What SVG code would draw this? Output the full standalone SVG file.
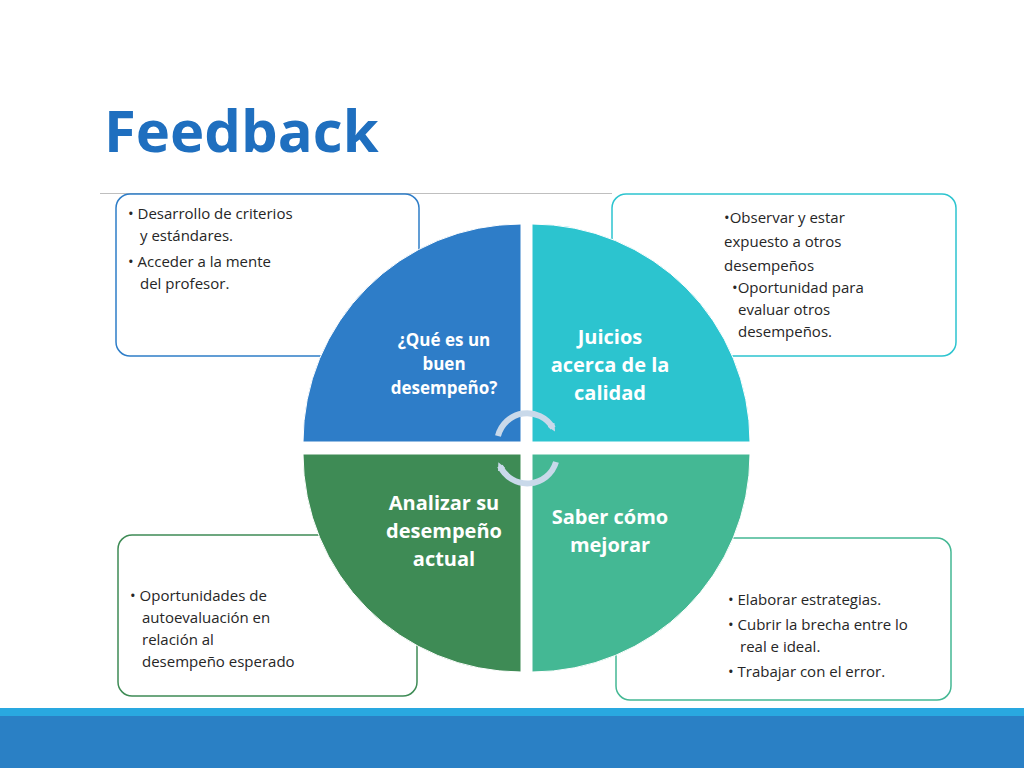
<svg xmlns="http://www.w3.org/2000/svg" width="1024" height="768" viewBox="0 0 1024 768">
<style>
.t{font-family:"Open Sans","Liberation Sans",sans-serif;font-size:15px;fill:#262626}
.q{font-family:"Open Sans","Liberation Sans",sans-serif;font-weight:bold;fill:#fff;text-anchor:middle}
.box{fill:#fff;stroke-width:1.5}
</style>
<defs>
<marker id="ah" markerWidth="8" markerHeight="8" refX="4" refY="4" orient="auto" markerUnits="userSpaceOnUse"><path d="M0,0 L8,4 L0,8 z" fill="#c9d9ea"/></marker>
</defs>
<rect width="1024" height="768" fill="#fff"/>
<text x="104" y="152" font-family="Open Sans,Liberation Sans,sans-serif" font-weight="bold" font-size="58" fill="#1f6fbf">Feedback</text>
<line x1="100" y1="193.5" x2="612" y2="193.5" stroke="#bfbfbf" stroke-width="1"/>
<g id="box-tl"><rect class="box" x="116" y="194" width="303" height="162" rx="14" stroke="#2e7dc8"/>
<text class="t"><tspan x="128" y="219">• Desarrollo de criterios</tspan><tspan x="140" y="241">y estándares.</tspan><tspan x="128" y="267">• Acceder a la mente</tspan><tspan x="140" y="289">del profesor.</tspan></text></g>
<g id="box-tr"><rect class="box" x="612" y="194" width="344" height="162" rx="14" stroke="#2cc4cf"/>
<text class="t"><tspan x="724" y="223">•Observar y estar</tspan><tspan x="724" y="247">expuesto a otros</tspan><tspan x="724" y="271">desempeños</tspan><tspan x="732" y="293">•Oportunidad para</tspan><tspan x="738" y="315">evaluar otros</tspan><tspan x="738" y="337">desempeños.</tspan></text></g>
<g id="box-bl"><rect class="box" x="118" y="535" width="299" height="161" rx="14" stroke="#3e8b55"/>
<text class="t"><tspan x="130" y="601">• Oportunidades de</tspan><tspan x="142" y="623">autoevaluación en</tspan><tspan x="142" y="645">relación al</tspan><tspan x="142" y="667">desempeño esperado</tspan></text></g>
<g id="box-br"><rect class="box" x="616" y="538" width="335" height="162" rx="14" stroke="#44b894"/>
<text class="t"><tspan x="728" y="605">• Elaborar estrategias.</tspan><tspan x="728" y="630">• Cubrir la brecha entre lo</tspan><tspan x="740" y="652">real  e ideal.</tspan><tspan x="728" y="677">• Trabajar con el error.</tspan></text></g>
<g id="q-tl"><path d="M521,224 A218,218 0 0 0 303,442 L521,442 Z" fill="#2e7dc8" stroke="#fff" stroke-width="1"/>
<text class="q" font-size="17"><tspan x="444" y="346">¿Qué es un</tspan><tspan x="444" y="370">buen</tspan><tspan x="444" y="394">desempeño?</tspan></text></g>
<g id="q-tr"><path d="M532,224 A218,218 0 0 1 750,442 L532,442 Z" fill="#2cc4cf" stroke="#fff" stroke-width="1"/>
<text class="q" font-size="20"><tspan x="610" y="344">Juicios</tspan><tspan x="610" y="372">acerca de la</tspan><tspan x="610" y="400">calidad</tspan></text></g>
<g id="q-bl"><path d="M303,454 A218,218 0 0 0 521,672 L521,454 Z" fill="#3e8b55" stroke="#fff" stroke-width="1"/>
<text class="q" font-size="20"><tspan x="444" y="510">Analizar su</tspan><tspan x="444" y="538">desempeño</tspan><tspan x="444" y="566">actual</tspan></text></g>
<g id="q-br"><path d="M750,454 A218,218 0 0 1 532,672 L532,454 Z" fill="#44b894" stroke="#fff" stroke-width="1"/>
<text class="q" font-size="20"><tspan x="610" y="524">Saber cómo</tspan><tspan x="610" y="552">mejorar</tspan></text></g>
<g id="connectors" fill="none" stroke="#c9d9ea" stroke-width="6">
<path d="M498,436 A30,30 0 0 1 553,428" marker-end="url(#ah)"/>
<path d="M556,462 A30,30 0 0 1 500,466" marker-end="url(#ah)"/>
</g>
<rect x="0" y="708" width="1024" height="8" fill="#29a8e0"/>
<rect x="0" y="716" width="1024" height="52" fill="#2a80c5"/>
</svg>
